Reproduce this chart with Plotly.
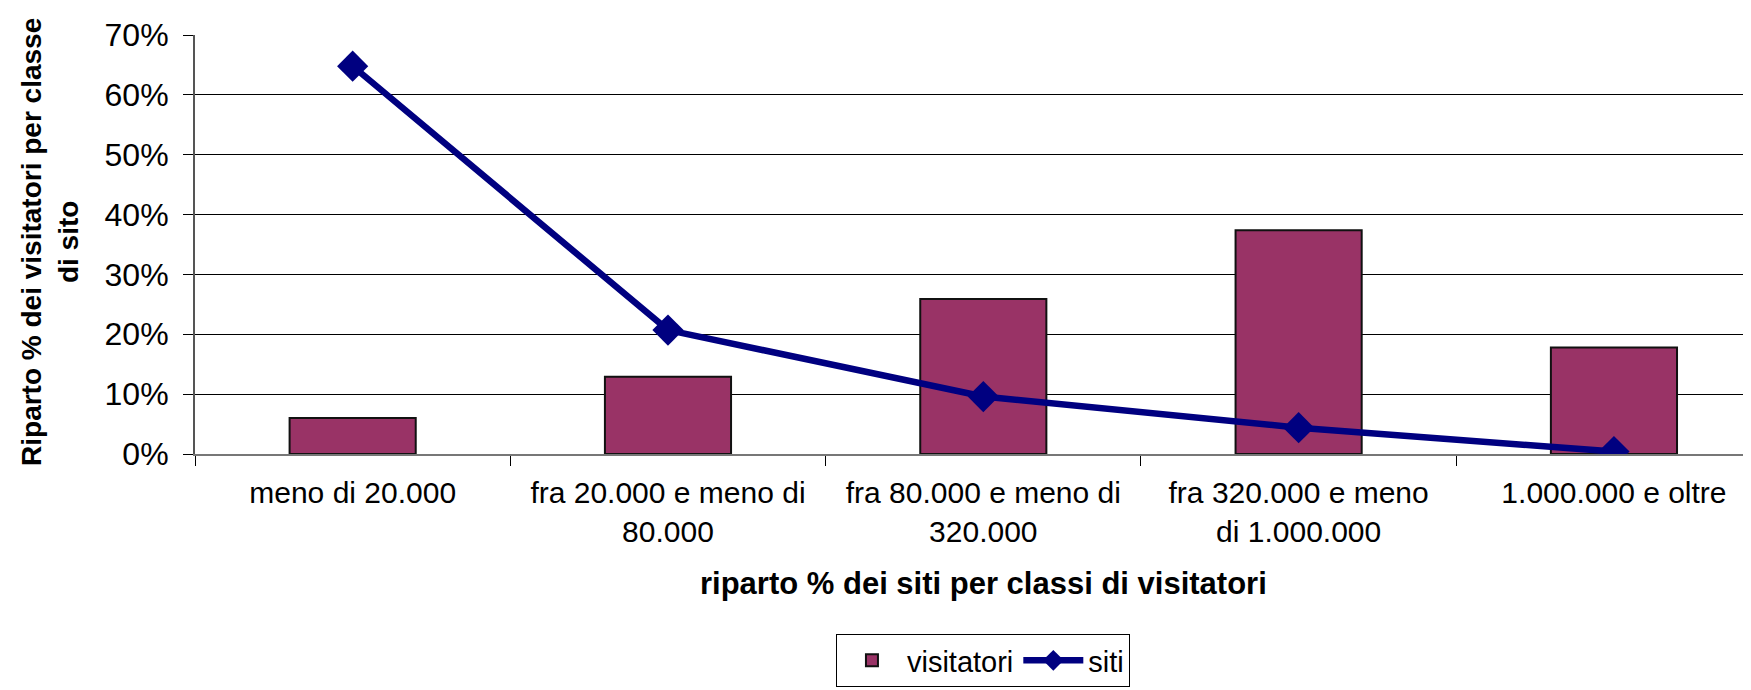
import plotly.graph_objects as go

categories = [
    "meno di 20.000",
    "fra 20.000 e meno di<br>80.000",
    "fra 80.000 e meno di<br>320.000",
    "fra 320.000 e meno<br>di 1.000.000",
    "1.000.000 e oltre",
]
visitatori = [6.0, 12.9, 25.9, 37.4, 17.8]
siti = [64.8, 20.7, 9.6, 4.4, 0.4]
y_ticks = [0, 10, 20, 30, 40, 50, 60, 70]
y_labels = [f"{v}%" for v in y_ticks]

FONT = "Liberation Sans, Arial, sans-serif"

fig = go.Figure()
fig.add_trace(go.Bar(
    x=categories, y=visitatori,
    name="visitatori",
    width=0.4,
    marker=dict(color="#993366", line=dict(color="#111111", width=2)),
))
fig.add_trace(go.Scatter(
    x=categories, y=siti,
    mode="lines+markers",
    name="siti",
    line=dict(color="#000080", width=6.5),
    marker=dict(symbol="diamond", size=24, color="#000080"),
))

# page body adds ~8px offset, so margins are shifted accordingly
fig.update_layout(
    width=1751, height=690,
    plot_bgcolor="white",
    paper_bgcolor="white",
    font=dict(family=FONT, size=30, color="black"),
    margin=dict(l=187, r=0, t=27, b=244),
    showlegend=True,
    legend=dict(
        orientation="h",
        xref="container", yref="container",
        x=0.5568, y=11 / 690,
        xanchor="center", yanchor="bottom",
        bordercolor="black", borderwidth=1,
        font=dict(size=29),
        itemwidth=60,
        tracegroupgap=0,
    ),
    annotations=[
        dict(
            text="<b>riparto % dei siti per classi di visitatori</b>",
            xref="paper", yref="paper",
            x=0.504, y=-0.308,
            xanchor="center", yanchor="middle",
            showarrow=False,
            font=dict(size=31),
        ),
        dict(
            text="<b>Riparto % dei visitatori per classe<br>di sito</b>",
            xref="paper", yref="paper",
            x=-0.093, y=0.505,
            xanchor="center", yanchor="middle",
            textangle=-90,
            showarrow=False,
            font=dict(size=28),
        ),
    ],
)

fig.update_xaxes(
    type="category",
    range=[-0.5, 4.46],
    automargin=False,
    tickson="boundaries",
    ticks="outside", ticklen=10, tickcolor="black",
    showline=True, linecolor="#777777", linewidth=2,
    showgrid=False,
    tickfont=dict(size=30),
    ticklabelstandoff=11,
)
fig.update_yaxes(
    range=[0, 70],
    automargin=False,
    tickvals=y_ticks,
    ticktext=y_labels,
    ticks="outside", ticklen=10, tickcolor="black",
    showline=True, linecolor="#555555", linewidth=2,
    showgrid=True, gridcolor="black", gridwidth=1,
    zeroline=False,
    tickfont=dict(size=32),
    ticklabelstandoff=8,
)

fig.write_html("out.html")
